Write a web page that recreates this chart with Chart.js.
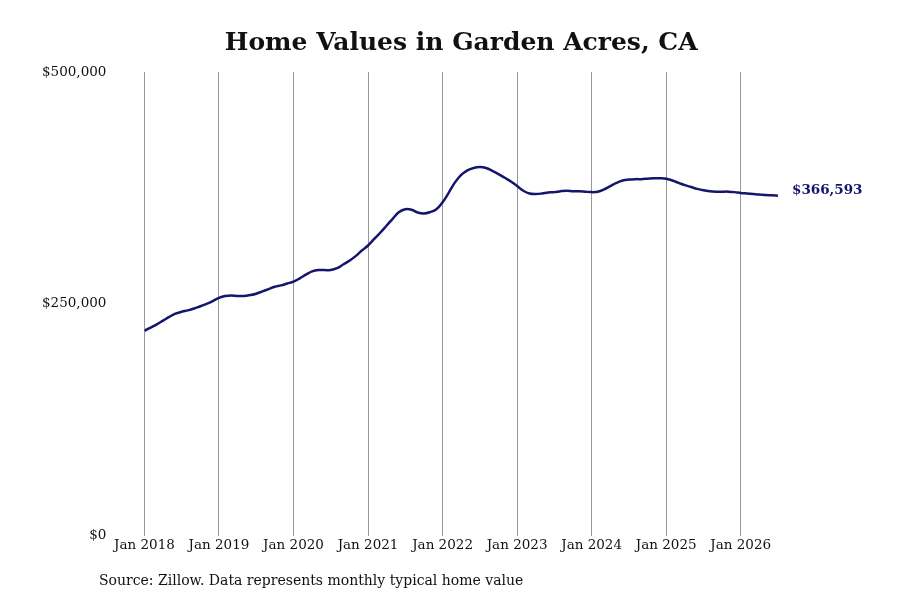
<!DOCTYPE html>
<html>
<head>
<meta charset="utf-8">
<script src="https://cdn.jsdelivr.net/npm/chart.js@4.4.0/dist/chart.umd.min.js"></script>
<style>
html,body{margin:0;padding:0;background:#fff;}
#wrap{width:900px;height:600px;}
</style>
</head>
<body>
<div id="wrap"><canvas id="c" width="900" height="600"></canvas></div>
<script>
const startYear = 2018;
const months = Array.from({length:103}, (_, i) => i); // month index from Jan 2018
const homeValues = [
221000,224500,228000,232000,236000,239500,241500,243000,245000,247500,250000,253000,
256500,258500,259000,258500,258500,259500,261000,263500,266000,268500,270000,272000,
274000,277500,281500,285000,286500,286500,286500,288500,292500,296500,301500,307500,
313000,320000,327000,334500,342000,349000,352000,351500,348500,347500,349000,352000,
359500,370000,381000,389000,394000,396500,397500,396500,393500,390000,386000,382000,
377000,372000,369000,368500,369000,370000,370500,371500,372000,371500,371500,371000,
370500,371000,373500,377000,380500,383000,384000,384500,384500,385000,385500,385500,
385000,383000,380500,378000,376000,374000,372500,371500,371000,371000,371000,370500,
369500,369000,368500,368000,367300,367000,366593
];
const yTicks = [0, 250000, 500000];
const titleText = 'Home Values in Garden Acres, CA';
const sourceText = 'Source: Zillow. Data represents monthly typical home value';

const FONT = "'DejaVu Serif', serif";
const LINE = '#15156b';

const fmt = v => '$' + v.toLocaleString('en-US');

const endLabel = {
  id: 'endLabel',
  afterDatasetsDraw(chart) {
    const meta = chart.getDatasetMeta(0);
    const last = meta.data[meta.data.length - 1];
    const ctx = chart.ctx;
    ctx.save();
    ctx.font = "bold 13.5px " + FONT;
    ctx.fillStyle = LINE;
    ctx.textAlign = 'left';
    ctx.textBaseline = 'middle';
    ctx.fillText(fmt(homeValues[homeValues.length - 1]), last.x + 14, last.y - 5);
    ctx.restore();
  },
  afterDraw(chart) {
    const ctx = chart.ctx;
    ctx.save();
    ctx.font = "14px " + FONT;
    ctx.fillStyle = '#111';
    ctx.textAlign = 'left';
    ctx.textBaseline = 'middle';
    ctx.fillText(sourceText, 99, 581);
    ctx.restore();
  }
};

new Chart(document.getElementById('c'), {
  type: 'line',
  data: {
    datasets: [{
      data: months.map((m, i) => ({x: m, y: homeValues[i]})),
      borderColor: LINE,
      borderWidth: 2.5,
      pointRadius: 0,
      tension: 0.4,
      fill: false
    }]
  },
  options: {
    responsive: false,
    animation: false,
    devicePixelRatio: 1,
    layout: { padding: { left: 4, right: 122, top: 0, bottom: 44 } },
    plugins: {
      legend: { display: false },
      tooltip: { enabled: false },
      title: {
        display: true,
        text: titleText,
        fullSize: false,
        color: '#111',
        font: { family: FONT, size: 25, weight: 'bold' },
        padding: { top: 28, bottom: 14 }
      }
    },
    scales: {
      x: {
        type: 'linear',
        min: 0,
        max: 102,
        border: { display: false },
        grid: { color: '#999', lineWidth: 1, tickLength: 0, drawTicks: false },
        afterBuildTicks(scale) {
          const t = [];
          for (let v = 0; v <= 102; v += 12) t.push({value: v});
          scale.ticks = t;
        },
        ticks: {
          padding: 2,
          color: '#111',
          maxRotation: 0,
          font: { family: FONT, size: 13.5 },
          callback: v => 'Jan ' + (startYear + v / 12)
        }
      },
      y: {
        min: 0,
        max: 500000,
        border: { display: false },
        grid: { display: false, drawTicks: false },
        afterBuildTicks(scale) {
          scale.ticks = yTicks.map(v => ({value: v}));
        },
        ticks: {
          padding: 38,
          color: '#111',
          font: { family: FONT, size: 13.5 },
          callback: v => fmt(v)
        }
      }
    }
  },
  plugins: [endLabel]
});
</script>
</body>
</html>
